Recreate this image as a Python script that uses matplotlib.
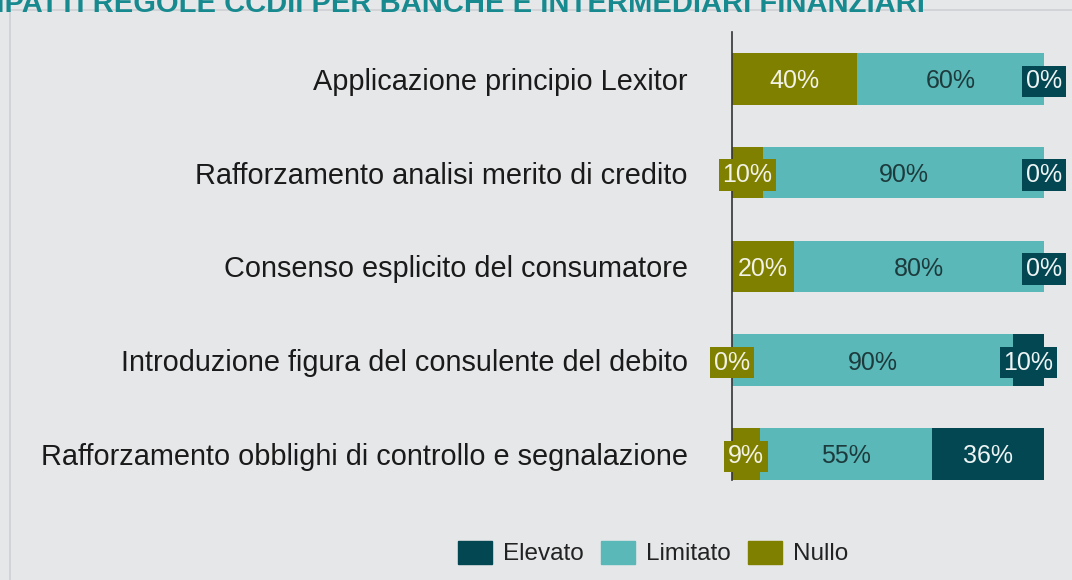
import numpy as np
import matplotlib.pyplot as plt
from matplotlib.patches import Patch
from matplotlib.lines import Line2D

# data
categorie = [
    "Applicazione principio Lexitor",
    "Rafforzamento analisi merito di credito",
    "Consenso esplicito del consumatore",
    "Introduzione figura del consulente del debito",
    "Rafforzamento obblighi di controllo e segnalazione",
]
nullo = [40, 10, 20, 0, 9]
limitato = [60, 90, 80, 90, 55]
elevato = [0, 0, 0, 10, 36]

col_elevato = "#034753"
col_limitato = "#5bb8b8"
col_nullo = "#808000"
bg = "#e6e7e9"

plt.rcParams['font.family'] = ['Liberation Sans', 'DejaVu Sans']

fig = plt.figure(figsize=(10.72, 5.8), dpi=100, facecolor=bg)
ax = fig.add_axes([732/1072, 1 - 480/580, 312/1072, 448/580])
ax.set_facecolor(bg)

y = np.arange(len(categorie))
h = 0.55
nullo = np.array(nullo)
limitato = np.array(limitato)
elevato = np.array(elevato)

ax.barh(y, nullo, height=h, color=col_nullo, label="Nullo")
ax.barh(y, limitato, left=nullo, height=h, color=col_limitato, label="Limitato")
ax.barh(y, elevato, left=nullo + limitato, height=h, color=col_elevato, label="Elevato")

def etichetta(x, yy, v, fc, tc, box):
    kw = {}
    if box:
        kw['bbox'] = dict(boxstyle="square,pad=0.15", fc=fc, ec="none")
    ax.text(x, yy, f"{v}%", ha="center", va="center_baseline", fontsize=18,
            color=tc, clip_on=False, zorder=5, **kw)

for i in range(len(categorie)):
    n, l, e = nullo[i], limitato[i], elevato[i]
    etichetta(n / 2, y[i], n, col_nullo, "#f2f2e6", n < 15)
    etichetta(n + l / 2, y[i], l, col_limitato, "#1d3b3d", False)
    etichetta(n + l + e / 2, y[i], e, col_elevato, "#eef4f4", e < 15)

ax.set_xlim(0, 100)
ax.set_ylim(4.28, -0.5)
ax.set_yticks(y)
ax.set_yticklabels(categorie, fontsize=20.8, color="#1a1a1a")
ax.tick_params(axis="y", length=0, pad=32)
ax.set_xticks([])
for s in ["top", "right", "bottom"]:
    ax.spines[s].set_visible(False)
ax.spines["left"].set_color("#333333")
ax.spines["left"].set_linewidth(1.2)

handles = [Patch(color=col_elevato, label="Elevato"),
           Patch(color=col_limitato, label="Limitato"),
           Patch(color=col_nullo, label="Nullo")]
fig.legend(handles=handles, loc="center", bbox_to_anchor=(653/1072, 1 - 553/580),
           ncol=3, frameon=False, fontsize=17.5, handlelength=1.4, handleheight=1.1,
           handletextpad=0.45, columnspacing=0.7, labelcolor="#222222")

# cornice del pannello
fig.add_artist(Line2D([10/1072, 1], [1 - 10/580, 1 - 10/580], color="#cfd0d3", lw=1.2))
fig.add_artist(Line2D([10/1072, 10/1072], [0, 1 - 10/580], color="#cfd0d3", lw=1.2))

fig.text(-0.026, 1 - 12/580, "IMPATTI REGOLE CCDII PER BANCHE E INTERMEDIARI FINANZIARI",
         fontsize=21, fontweight="bold", color="#178a8f", va="baseline",
         family=['Liberation Sans Narrow', 'Liberation Sans'])

fig.savefig("out.png", dpi=100, facecolor=bg)
